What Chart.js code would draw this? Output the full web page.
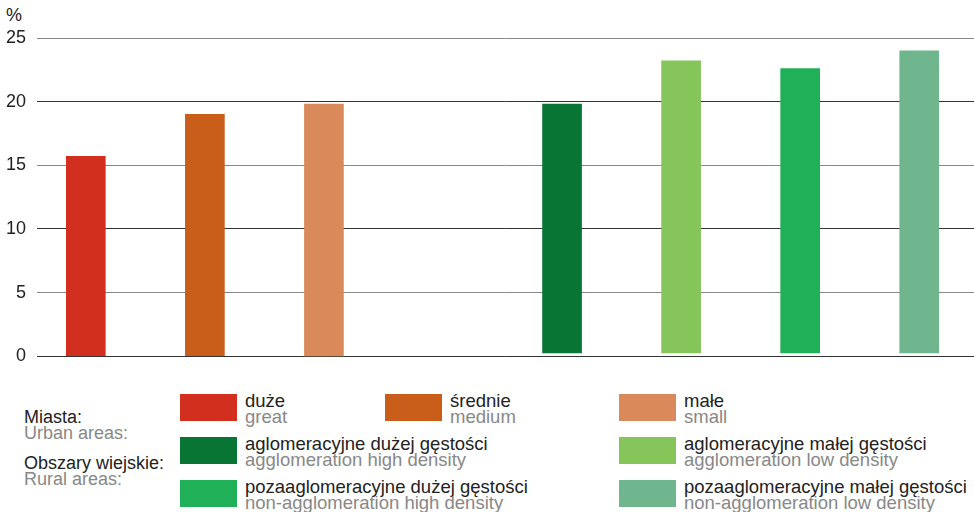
<!DOCTYPE html>
<html>
<head>
<meta charset="utf-8">
<script src="https://cdn.jsdelivr.net/npm/chart.js@4"></script>
<style>
  body { margin: 0; background: #fff; font-family: "Liberation Sans", Arial, sans-serif; }
  #wrap { position: relative; width: 974px; height: 512px; overflow: hidden; }
  #chartBox { position: absolute; left: 0; top: 0; width: 974px; height: 378px; }
  .unit { position: absolute; left: 6px; top: 5px; font-size: 18px; color: #222; }
  .grp { position: absolute; left: 24px; font-size: 18px; line-height: 16px; }
  .swatch { position: absolute; width: 57px; height: 27px; }
  .lbl { position: absolute; font-size: 18.5px; line-height: 16px; white-space: nowrap; }
  .pl { color: #222; }
  .en { color: #888; }
</style>
</head>
<body>
<div id="wrap">
  <div class="unit">%</div>
  <div id="chartBox"><canvas id="myChart"></canvas></div>
  <div id="legend"></div>
</div>
<script>
const categories = [
  "duże",
  "średnie",
  "małe",
  "",
  "aglomeracyjne dużej gęstości",
  "aglomeracyjne małej gęstości",
  "pozaaglomeracyjne dużej gęstości",
  "pozaaglomeracyjne małej gęstości",
];
const categoriesEn = [
  "great",
  "medium",
  "small",
  "",
  "agglomeration high density",
  "agglomeration low density",
  "non-agglomeration high density",
  "non-agglomeration low density",
];
const values = [15.7, 19.0, 19.8, null, 19.8, 23.2, 22.6, 24.0];
const bases = [0, 0, -0.1, null, 0.25, 0.25, 0.25, 0.25];
const colors = ["#D32F1F", "#C85E1A", "#DA8A5A", "#fff", "#087535", "#85C55A", "#20B058", "#6FB58D"];
const yTicks = [0, 5, 10, 15, 20, 25];
const groupsPl = ["Miasta:", "Obszary wiejskie:"];
const groupsEn = ["Urban areas:", "Rural areas:"];

// legend layout (column, row) for each category
const slots = [[0, 0], [1, 0], [2, 0], null, [0, 1], [2, 1], [0, 2], [2, 2]];
const colX = [180, 385, 619];
const rowY = [394, 437, 480];

let legend = document.getElementById("legend");
let html = "";
categories.forEach((c, i) => {
  if (!slots[i]) return;
  let x = colX[slots[i][0]], y = rowY[slots[i][1]];
  html += `<div class="swatch" style="left:${x}px;top:${y}px;background:${colors[i]}"></div>`;
  html += `<div class="lbl" style="left:${x + 65}px;top:${y - 1}px"><div class="pl">${c}</div><div class="en">${categoriesEn[i]}</div></div>`;
});
html += `<div class="grp" style="top:409px"><div class="pl">${groupsPl[0]}</div><div class="en">${groupsEn[0]}</div></div>`;
html += `<div class="grp" style="top:455px"><div class="pl">${groupsPl[1]}</div><div class="en">${groupsEn[1]}</div></div>`;
legend.innerHTML = html;

let ctx = document.getElementById("myChart").getContext("2d");
let myChart = new Chart(ctx, {
  type: "bar",
  data: {
    datasets: [
      {
        data: values
          .map((v, i) => (v === null ? null : { x: i, y: [bases[i], v] }))
          .filter((d) => d !== null),
        backgroundColor: colors.filter((c, i) => values[i] !== null),
        barThickness: 39,
        borderSkipped: false,
      },
    ],
  },
  options: {
    responsive: true,
    maintainAspectRatio: false,
    animation: false,
    layout: { padding: { top: 38, bottom: 4.5, right: 0, left: 0 } },
    plugins: {
      legend: { display: false },
      tooltip: { enabled: false },
    },
    scales: {
      x: { type: "linear", display: false, offset: false, min: -0.41, max: 7.46 },
      y: {
        min: 0,
        max: 25,
        afterBuildTicks: (s) => { s.ticks = yTicks.map((v) => ({ value: v })); },
        afterFit: (s) => { s.width = 37; },
        border: { display: false },
        grid: {
          drawTicks: false,
          color: (c) => (c.tick && c.tick.value % 10 === 0 ? "#333" : "#888"),
        },
        ticks: {
          padding: 11,
          color: "#222",
          font: { family: "Liberation Sans", size: 18 },
        },
      },
    },
  },
});
</script>
</body>
</html>
